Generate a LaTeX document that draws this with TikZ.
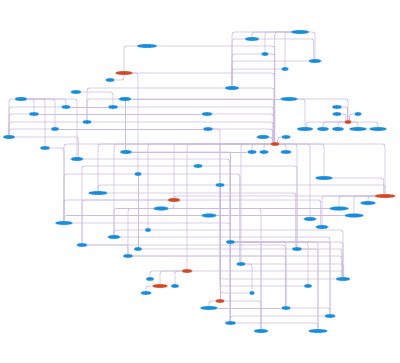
\documentclass[tikz,border=0pt]{standalone}
\usetikzlibrary{shapes.geometric,backgrounds}
\definecolor{nodeblue}{RGB}{22,140,222}
\definecolor{nodered}{RGB}{208,74,38}
\definecolor{edgec}{RGB}{204,188,226}
\tikzset{
  bn/.style={ellipse, fill=nodeblue, draw=nodeblue!60!white, line width=0.3pt, minimum height=3.8pt, inner sep=0pt},
  rn/.style={ellipse, fill=nodered, draw=nodered!60!white, line width=0.3pt, minimum height=3.8pt, inner sep=0pt},
  wd/.style={minimum width=#1pt},
  edge/.style={draw=edgec, line width=0.8pt, rounded corners=2.5pt}
}
\begin{document}
\begin{tikzpicture}[x=1pt,y=-1pt]
\useasboundingbox (0,0) rectangle (400,363);
% nodes
\node[bn,wd=20] (n1) at (147,46) {};
\node[rn,wd=17] (r1) at (124,73) {};
\node[bn,wd=9] (n2) at (110,80) {};
\node[bn,wd=11] (n3) at (76,92) {};
\node[bn,wd=13] (n4) at (21,99) {};
\node[bn,wd=13] (n5) at (125,99) {};
\node[bn,wd=9] (n6) at (66,107) {};
\node[bn,wd=10] (n7) at (113,107) {};
\node[bn,wd=10] (n8) at (34,114) {};
\node[bn,wd=9] (n9) at (87,122) {};
\node[bn,wd=8] (n10) at (55,129) {};
\node[bn,wd=12] (n11) at (9,137) {};
\node[bn,wd=10] (n12) at (45,148) {};
\node[bn,wd=12] (n13) at (126,152) {};
\node[bn,wd=13] (n14) at (77,159) {};
\node[bn,wd=7] (n15) at (138,174) {};
\node[bn,wd=9] (n16) at (198,166) {};
\node[bn,wd=18] (n17) at (300,32) {};
\node[bn,wd=14] (n18) at (252,39) {};
\node[bn,wd=7] (n19) at (265,54) {};
\node[bn,wd=13] (n20) at (315,61) {};
\node[bn,wd=7] (n21) at (285,69) {};
\node[bn,wd=14] (n22) at (232,88) {};
\node[bn,wd=17] (n23) at (289,99) {};
\node[bn,wd=10] (n24) at (337,107) {};
\node[bn,wd=9] (n25) at (337,114) {};
\node[bn,wd=7] (n26) at (358,114) {};
\node[bn,wd=11] (n27) at (207,114) {};
\node[rn,wd=7] (r2) at (348,122) {};
\node[bn,wd=10] (n28) at (208,129) {};
\node[bn,wd=16] (n29) at (305,129) {};
\node[bn,wd=12] (n30) at (323,129) {};
\node[bn,wd=12] (n31) at (338,129) {};
\node[bn,wd=17] (n32) at (358,129) {};
\node[bn,wd=17] (n33) at (378,129) {};
\node[bn,wd=13] (n34) at (263,137) {};
\node[bn,wd=9] (n35) at (286,137) {};
\node[rn,wd=9] (r3) at (275,144) {};
\node[bn,wd=9] (n36) at (252,152) {};
\node[bn,wd=9] (n37) at (264,152) {};
\node[bn,wd=11] (n38) at (286,152) {};
\node[bn,wd=17] (n39) at (324,178) {};
\node[bn,wd=19] (n40) at (98,193) {};
\node[rn,wd=13] (r4) at (174,200) {};
\node[bn,wd=15] (n41) at (161,208.5) {};
\node[bn,wd=17] (n42) at (64,223) {};
\node[bn,wd=6] (n43) at (148,230) {};
\node[bn,wd=13] (n44) at (114,237) {};
\node[bn,wd=11] (n45) at (82,245) {};
\node[bn,wd=8] (n46) at (138,249) {};
\node[bn,wd=10] (n47) at (128,256) {};
\node[rn,wd=11] (r5) at (187,271) {};
\node[bn,wd=8] (n48) at (150,279) {};
\node[rn,wd=15] (r6) at (160,286) {};
\node[bn,wd=8] (n49) at (175,286) {};
\node[bn,wd=11] (n50) at (146,293) {};
\node[bn,wd=9] (n51) at (220,185) {};
\node[rn,wd=21] (r7) at (385,196) {};
\node[bn,wd=15] (n52) at (368,203) {};
\node[bn,wd=19] (n53) at (339,208.5) {};
\node[bn,wd=15] (n54) at (209,215.5) {};
\node[bn,wd=19] (n55) at (354,215.5) {};
\node[bn,wd=13] (n56) at (310,219) {};
\node[bn,wd=13] (n57) at (322,227) {};
\node[bn,wd=9] (n58) at (230.5,242) {};
\node[bn,wd=10] (n59) at (297,249) {};
\node[bn,wd=9] (n60) at (241,264) {};
\node[bn,wd=14] (n61) at (343,279) {};
\node[bn,wd=8] (n62) at (308,286) {};
\node[bn,wd=5] (n63) at (252,293) {};
\node[rn,wd=9] (r8) at (220,301) {};
\node[bn,wd=17] (n64) at (209,308) {};
\node[bn,wd=9] (n65) at (286,308) {};
\node[bn,wd=11] (n66) at (330,316) {};
\node[bn,wd=11] (n67) at (230.5,323) {};
\node[bn,wd=14] (n68) at (261,331) {};
\node[bn,wd=19] (n69) at (318,331) {};
\begin{pgfonlayer}{background}
\fill[white] (0,0) rectangle (400,363);
% top cluster
\draw[edge] (n17) -| (n22);
\draw[edge] (n17) -| (n18);
\draw[edge] (n17) -| (n19);
\draw[edge] (n17) -| (n21);
\draw[edge] (n17) -| (r3.95);
\draw[edge] (n17) -| (n20);
\draw[edge] (n18) -| (n20.120);
\draw[edge] (n22) |- (n18);
\draw[edge] (n22) |- (n19);
\draw[edge] (n22) |- (n20);
\draw[edge] (n22) |- (n21);
\draw[edge] (n19) -| (r3.100);
\draw[edge] (n1) -| (r3.105);
\draw[edge] (r1) -| (r3.110);
\draw[edge] (n22) -| (r3.115);
\draw[edge] (n5) -| (r3.120);
\draw[edge] (n7) -| (r3.125);
\draw[edge] (n27) -| (r3.130);
\draw[edge] (n9) -| (r3.135);
\draw[edge] (n28) -| (r3.140);
% left cluster
\draw[edge] (n1) -| (r1);
\draw[edge] (r1) -| (n15);
\draw[edge] (r1) |- (n2);
\draw[edge] (n9) |- (n22);
\draw[edge] (n3) -| (n7);
\draw[edge] (n5) -| (n9);
\draw[edge] (n5) -- (n23);
\draw[edge] (n5) -- (n5 |- n13.north);
\draw[edge] (n4) -| (n11);
\draw[edge] (n4) -| (n8);
\draw[edge] (n4) -| (n12);
\draw[edge] (n4) -| (n10);
\draw[edge] (n4) -| (n6);
\draw[edge] (n4) -| (n14);
\draw[edge] (n11) |- (n6);
\draw[edge] (n11) |- (n8);
\draw[edge] (n11) |- (n9);
\draw[edge] (n11) |- (n10);
\draw[edge] (n11) -| (n14.60);
\draw[edge] (n6) -- (n7);
\draw[edge] (n8) -- (n27);
\draw[edge] (n10) -- (n28);
\draw[edge] (n12) -| (n42);
\draw[edge] (n13) -| (n58);
\draw[edge] (n13) -- (n36);
\draw[edge] (n14) -| (n67.110);
\draw[edge] (n45) |- (n16);
\draw[edge] (n42) |- (n15);
\draw[edge] (n15) -- (n46);
\draw[edge] (n15) -| (n60.120);
\draw[edge] (n16) -| (n59);
\draw[edge] (n28) -| (n51);
% r3 fan-out
\draw[edge] (r3) -| (n36);
\draw[edge] (r3) -| (n37);
\draw[edge] (r3) -| (n38);
\draw[edge] (r3) -| (n42);
\draw[edge] (r3) -| (n40);
\draw[edge] (r3) -| (n44);
\draw[edge] (r3) -| (n43);
\draw[edge] (r3) -| (r4);
\draw[edge] (r3) -| (r5);
\draw[edge] (r3) -| (n51);
\draw[edge] (r3) -| (n60);
\draw[edge] (r3) -| (n59);
\draw[edge] (r3) -| (n56);
\draw[edge] (r3) -| (n39);
\draw[edge] (r3) -| (r7);
\draw[edge] (n34) -| (r3.150);
\draw[edge] (n35) -| (r3.30);
% r2 cluster
\draw[edge] (n23) -| (r2);
\draw[edge] (n23) -| (n29);
\draw[edge] (n24) -| (r2.100);
\draw[edge] (n25) -| (r2.140);
\draw[edge] (n26) -| (r2.50);
\draw[edge] (r2) -| (n30);
\draw[edge] (r2) -| (n31);
\draw[edge] (r2) -| (n32);
\draw[edge] (r2) -| (n33);
\draw[edge] (r2) -| (n29.60);
% middle
\draw[edge] (n40) |- (n51);
\draw[edge] (n40) -| (n59.120);
\draw[edge] (n51) -| (r7);
\draw[edge] (n39) -| (r7.120);
\draw[edge] (r7) -| (n52);
\draw[edge] (r7) -| (n55);
\draw[edge] (r7) -| (n53);
\draw[edge] (r7) -| (n57);
\draw[edge] (r7) -| (r4);
\draw[edge] (r4) -| (n42);
\draw[edge] (r4) -| (n45);
\draw[edge] (r4) |- (n41);
\draw[edge] (r4) -| (n57.120);
\draw[edge] (n44) |- (n41);
\draw[edge] (n44) |- (n43);
\draw[edge] (n41) -| (n47);
\draw[edge] (n41) -- (n53);
\draw[edge] (n41) -| (n68);
\draw[edge] (n42) |- (n54);
\draw[edge] (n54) -- (n55);
\draw[edge] (n42) -| (n58);
\draw[edge] (n43) -| (n61);
\draw[edge] (n44) -| (n66);
\draw[edge] (n45) -| (n47);
\draw[edge] (n45) -| (n65.110);
\draw[edge] (n46) -| (n61.120);
\draw[edge] (n59) -| (n69);
\draw[edge] (n47) -| (n65);
\draw[edge] (n47) -| (n61.105);
\draw[edge] (n60) -| (n63);
\draw[edge] (n60) -| (n61.70);
% bottom
\draw[edge] (n58) -| (n68);
\draw[edge] (n58) -| (n65);
\draw[edge] (n58) -| (n62);
\draw[edge] (n58) -| (n69);
\draw[edge] (n58) -| (n66);
\draw[edge] (n58) -| (n61);
\draw[edge] (n58) -- (n67);
\draw[edge] (n51) -- (r8);
\draw[edge] (n51) |- (n61);
\draw[edge] (n51) |- (n62);
\draw[edge] (n51) |- (n63);
\draw[edge] (r8) -| (n68);
\draw[edge] (r8) -| (n64);
\draw[edge] (n64) -- (n65);
\draw[edge] (n65) -| (n66);
\draw[edge] (n67) |- (n66);
\draw[edge] (n67) -| (n69);
\draw[edge] (r5) -| (n61);
\draw[edge] (r5) -| (n48);
\draw[edge] (r5) -| (r6);
\draw[edge] (r5) -| (n49);
\draw[edge] (r6) -| (n50);
\end{pgfonlayer}
\end{tikzpicture}
\end{document}
